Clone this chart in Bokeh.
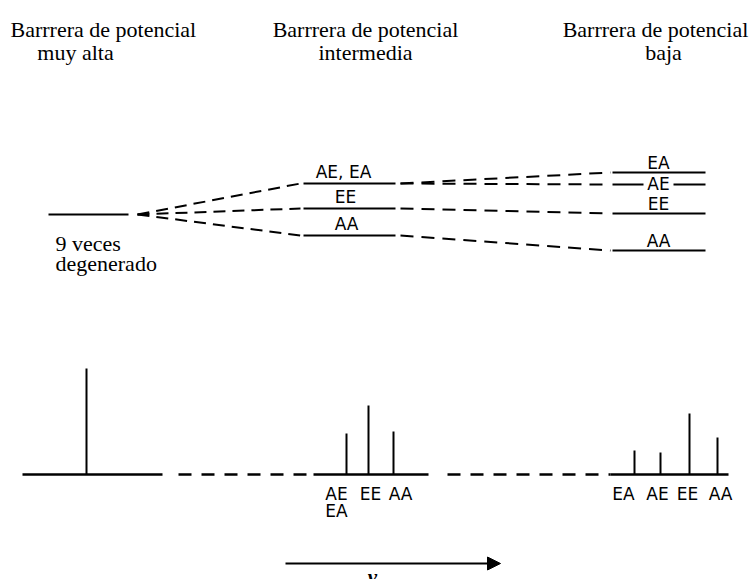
from bokeh.plotting import figure
from bokeh.models import Range1d, Arrow, NormalHead
from bokeh.core.properties import value
from bokeh.embed import file_html
from bokeh.resources import INLINE

# ---------------- data ----------------
titles_line1 = ["Barrrera de potencial", "Barrrera de potencial", "Barrrera de potencial"]
titles_line2 = ["muy alta", "intermedia", "baja"]

degenerate_text = ["9 veces", "degenerado"]
level_high = [357]                      # 9-fold degenerate level (very high barrier)

levels_mid_labels = ["AE, EA", "EE", "AA"]
levels_mid = [388, 363, 336]            # intermediate barrier

levels_low_labels = ["EA", "AE", "EE", "AA"]
levels_low = [399, 387, 358, 321]       # low barrier

# which intermediate level splits into which low-barrier level
connections = [(0, 0), (0, 1), (1, 2), (2, 3)]

spectrum_baseline = 97
peaks_high_x = [86]
peaks_high_h = [106]
peaks_mid_labels = ["AE\nEA", "EE", "AA"]
peaks_mid_x = [346, 368, 393]
peaks_mid_h = [41, 69, 43]
peaks_low_labels = ["EA", "AE", "EE", "AA"]
peaks_low_x = [634, 660, 689, 717]
peaks_low_h = [24, 22, 61, 37]

nu_label = "ν"

# ---------------- layout / style ----------------
SERIF = value("Liberation Serif")
SANS = value("DejaVu Sans")

W, H = 751, 579
TOP = 571
p = figure(width=W, height=H, output_backend="svg", toolbar_location=None,
           x_range=Range1d(0, W), y_range=Range1d(TOP - H, TOP), min_border=0)
p.axis.visible = False
p.grid.visible = False
p.outline_line_color = None
p.background_fill_color = "white"
p.border_fill_color = "white"

BLACK = "black"

# column extents for the level lines
col_high = (48, 128)
col_mid = (303, 395)
col_low = (612, 705)

# titles
p.text(x=[10], y=[542], text=[titles_line1[0]], text_font=SERIF, text_font_size="22px",
       text_align="left", text_baseline="alphabetic", text_color=BLACK)
p.text(x=[75], y=[519], text=[titles_line2[0]], text_font=SERIF, text_font_size="22px",
       text_align="center", text_baseline="alphabetic", text_color=BLACK)
p.text(x=[365, 655], y=[542, 542], text=titles_line1[1:], text_font=SERIF, text_font_size="22px",
       text_align="center", text_baseline="alphabetic", text_color=BLACK)
p.text(x=[365, 663], y=[519, 519], text=titles_line2[1:], text_font=SERIF, text_font_size="22px",
       text_align="center", text_baseline="alphabetic", text_color=BLACK)

# degenerate level
p.segment(x0=[col_high[0]] * len(level_high), x1=[col_high[1]] * len(level_high),
          y0=level_high, y1=level_high, line_color=BLACK, line_width=2)
p.text(x=[55, 55], y=[level_high[0] - 29, level_high[0] - 49], text=degenerate_text,
       text_font=SERIF, text_font_size="22px", text_align="left",
       text_baseline="alphabetic", text_color=BLACK)

# intermediate levels
p.segment(x0=[col_mid[0]] * 3, x1=[col_mid[1]] * 3, y0=levels_mid, y1=levels_mid,
          line_color=BLACK, line_width=2)
p.text(x=[343, 345, 346], y=[v + 12 for v in levels_mid], text=levels_mid_labels,
       text_font=SANS, text_font_size="17px", text_align="center",
       text_baseline="middle", text_color=BLACK)

# low-barrier levels (the AE line is broken by its label)
lab_x = 658
gap = 15
for lab, lv in zip(levels_low_labels, levels_low):
    if lab == "AE":
        p.segment(x0=[col_low[0], lab_x + gap], x1=[lab_x - gap, col_low[1]],
                  y0=[lv, lv], y1=[lv, lv], line_color=BLACK, line_width=2)
        p.text(x=[lab_x], y=[lv + 1], text=[lab], text_font=SANS, text_font_size="17px",
               text_align="center", text_baseline="middle", text_color=BLACK)
    else:
        p.segment(x0=[col_low[0]], x1=[col_low[1]], y0=[lv], y1=[lv],
                  line_color=BLACK, line_width=2)
        p.text(x=[lab_x], y=[lv + 10], text=[lab], text_font=SANS, text_font_size="17px",
               text_align="center", text_baseline="middle", text_color=BLACK)

# dashed correlation lines
p.segment(x0=[137] * 3, y0=[level_high[0]] * 3, x1=[300] * 3, y1=levels_mid,
          line_color=BLACK, line_width=2, line_dash="12 7")
p.segment(x0=[400] * len(connections), y0=[levels_mid[a] for a, b in connections],
          x1=[610] * len(connections), y1=[levels_low[b] for a, b in connections],
          line_color=BLACK, line_width=2, line_dash="13 8")

# spectrum baseline
base = spectrum_baseline
p.segment(x0=[22, 313, 610], x1=[162, 428, 728], y0=[base] * 3, y1=[base] * 3,
          line_color=BLACK, line_width=2.5)
p.segment(x0=[178, 447], x1=[313, 610], y0=[base] * 2, y1=[base] * 2,
          line_color=BLACK, line_width=2.5, line_dash="13 10")

# spectral lines
all_x = peaks_high_x + peaks_mid_x + peaks_low_x
all_h = peaks_high_h + peaks_mid_h + peaks_low_h
p.segment(x0=all_x, x1=all_x, y0=[base] * len(all_x), y1=[base + h for h in all_h],
          line_color=BLACK, line_width=2)

# spectral line labels
mid_off = [-10, 2, 7]
low_off = [-11, -3, -2, 3]
p.text(x=[x + o for x, o in zip(peaks_mid_x, mid_off)], y=[base - 9] * 3,
       text=peaks_mid_labels, text_font=SANS, text_font_size="17px", text_align="center",
       text_baseline="top", text_color=BLACK, text_line_height=0.85)
p.text(x=[x + o for x, o in zip(peaks_low_x, low_off)], y=[base - 9] * 4,
       text=peaks_low_labels, text_font=SANS, text_font_size="17px", text_align="center",
       text_baseline="top", text_color=BLACK)

# frequency arrow
p.add_layout(Arrow(end=NormalHead(size=13, fill_color=BLACK, line_color=BLACK),
                   x_start=285, y_start=8, x_end=500, y_end=8,
                   line_color=BLACK, line_width=2))
p.text(x=[372], y=[-5], text=[nu_label], text_font=SERIF, text_font_size="21px",
       text_font_style="bold italic", text_align="center", text_baseline="alphabetic",
       text_color=BLACK)

open("out.html", "w").write(file_html(p, INLINE))
